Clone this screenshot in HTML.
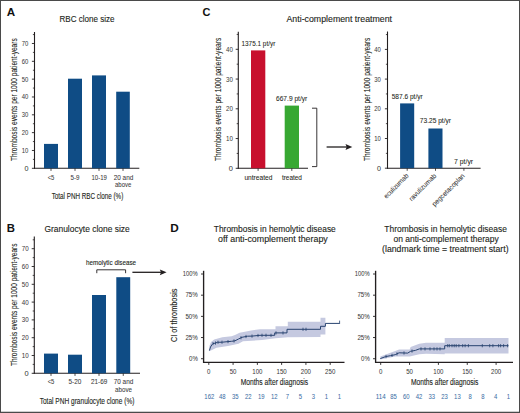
<!DOCTYPE html><html><head><meta charset="utf-8"><style>html,body{margin:0;padding:0;background:#fff;}body{position:relative;width:520px;height:413px;overflow:hidden;}svg{display:block;position:absolute;left:0;top:0;}text{font-family:"Liberation Sans",sans-serif;}.v{position:absolute;transform-origin:0 0;white-space:nowrap;font-family:"Liberation Sans",sans-serif;line-height:1;-webkit-text-stroke:0.1px currentColor;}</style></head><body>
<svg width="520" height="413" viewBox="0 0 520 413">
<rect x="0" y="0" width="520" height="413" fill="#fff"/>
<text x="6.8" y="15.8" font-size="11" text-anchor="start" fill="#111" font-weight="bold" textLength="8.4" lengthAdjust="spacingAndGlyphs">A</text>
<text x="59.5" y="21.6" font-size="8.6" text-anchor="start" fill="#231f20" font-weight="normal" textLength="55" lengthAdjust="spacingAndGlyphs" stroke="#231f20" stroke-width="0.12">RBC clone size</text>
<line x1="34.5" y1="32" x2="34.5" y2="168.8" stroke="#231f20" stroke-width="1.1"/>
<line x1="34.0" y1="168.3" x2="139.3" y2="168.3" stroke="#231f20" stroke-width="1.1"/>
<line x1="31.9" y1="168.3" x2="34.5" y2="168.3" stroke="#231f20" stroke-width="0.9"/>
<text x="28.4" y="170.8" font-size="7.4" text-anchor="end" fill="#3a3a3a" font-weight="normal" textLength="4.0" lengthAdjust="spacingAndGlyphs" stroke="#3a3a3a" stroke-width="0.04">0</text>
<line x1="31.9" y1="150.47000000000003" x2="34.5" y2="150.47000000000003" stroke="#231f20" stroke-width="0.9"/>
<text x="28.4" y="152.97" font-size="7.4" text-anchor="end" fill="#3a3a3a" font-weight="normal" textLength="6.6" lengthAdjust="spacingAndGlyphs" stroke="#3a3a3a" stroke-width="0.04">10</text>
<line x1="31.9" y1="132.64000000000001" x2="34.5" y2="132.64000000000001" stroke="#231f20" stroke-width="0.9"/>
<text x="28.4" y="135.14" font-size="7.4" text-anchor="end" fill="#3a3a3a" font-weight="normal" textLength="6.6" lengthAdjust="spacingAndGlyphs" stroke="#3a3a3a" stroke-width="0.04">20</text>
<line x1="31.9" y1="114.81000000000002" x2="34.5" y2="114.81000000000002" stroke="#231f20" stroke-width="0.9"/>
<text x="28.4" y="117.31" font-size="7.4" text-anchor="end" fill="#3a3a3a" font-weight="normal" textLength="6.6" lengthAdjust="spacingAndGlyphs" stroke="#3a3a3a" stroke-width="0.04">30</text>
<line x1="31.9" y1="96.98000000000002" x2="34.5" y2="96.98000000000002" stroke="#231f20" stroke-width="0.9"/>
<text x="28.4" y="99.48" font-size="7.4" text-anchor="end" fill="#3a3a3a" font-weight="normal" textLength="6.6" lengthAdjust="spacingAndGlyphs" stroke="#3a3a3a" stroke-width="0.04">40</text>
<line x1="31.9" y1="79.15000000000002" x2="34.5" y2="79.15000000000002" stroke="#231f20" stroke-width="0.9"/>
<text x="28.4" y="81.65" font-size="7.4" text-anchor="end" fill="#3a3a3a" font-weight="normal" textLength="6.6" lengthAdjust="spacingAndGlyphs" stroke="#3a3a3a" stroke-width="0.04">50</text>
<line x1="31.9" y1="61.32000000000002" x2="34.5" y2="61.32000000000002" stroke="#231f20" stroke-width="0.9"/>
<text x="28.4" y="63.82" font-size="7.4" text-anchor="end" fill="#3a3a3a" font-weight="normal" textLength="6.6" lengthAdjust="spacingAndGlyphs" stroke="#3a3a3a" stroke-width="0.04">60</text>
<line x1="31.9" y1="43.49000000000002" x2="34.5" y2="43.49000000000002" stroke="#231f20" stroke-width="0.9"/>
<text x="28.4" y="45.99" font-size="7.4" text-anchor="end" fill="#3a3a3a" font-weight="normal" textLength="6.6" lengthAdjust="spacingAndGlyphs" stroke="#3a3a3a" stroke-width="0.04">70</text>
<line x1="32.9" y1="159.38500000000002" x2="34.5" y2="159.38500000000002" stroke="#231f20" stroke-width="0.8"/>
<line x1="32.9" y1="141.555" x2="34.5" y2="141.555" stroke="#231f20" stroke-width="0.8"/>
<line x1="32.9" y1="123.72500000000002" x2="34.5" y2="123.72500000000002" stroke="#231f20" stroke-width="0.8"/>
<line x1="32.9" y1="105.89500000000001" x2="34.5" y2="105.89500000000001" stroke="#231f20" stroke-width="0.8"/>
<line x1="32.9" y1="88.06500000000001" x2="34.5" y2="88.06500000000001" stroke="#231f20" stroke-width="0.8"/>
<line x1="32.9" y1="70.23500000000001" x2="34.5" y2="70.23500000000001" stroke="#231f20" stroke-width="0.8"/>
<line x1="32.9" y1="52.405000000000015" x2="34.5" y2="52.405000000000015" stroke="#231f20" stroke-width="0.8"/>
<line x1="32.9" y1="34.57500000000002" x2="34.5" y2="34.57500000000002" stroke="#231f20" stroke-width="0.8"/>
<rect x="44" y="143.9" width="14" height="24.400000000000006" fill="#0f4c85"/>
<line x1="51.0" y1="168.3" x2="51.0" y2="170.9" stroke="#231f20" stroke-width="0.8"/>
<rect x="68" y="78.7" width="14" height="89.60000000000001" fill="#0f4c85"/>
<line x1="75.0" y1="168.3" x2="75.0" y2="170.9" stroke="#231f20" stroke-width="0.8"/>
<rect x="92" y="75.4" width="14" height="92.9" fill="#0f4c85"/>
<line x1="99.0" y1="168.3" x2="99.0" y2="170.9" stroke="#231f20" stroke-width="0.8"/>
<rect x="116.2" y="91.7" width="13.600000000000009" height="76.60000000000001" fill="#0f4c85"/>
<line x1="123.0" y1="168.3" x2="123.0" y2="170.9" stroke="#231f20" stroke-width="0.8"/>
<text x="51.05" y="179.6" font-size="7.2" text-anchor="middle" fill="#3a3a3a" font-weight="normal" textLength="6.7" lengthAdjust="spacingAndGlyphs" stroke="#3a3a3a" stroke-width="0.06">&lt;5</text>
<text x="75.0" y="179.6" font-size="7.2" text-anchor="middle" fill="#3a3a3a" font-weight="normal" textLength="9" lengthAdjust="spacingAndGlyphs" stroke="#3a3a3a" stroke-width="0.06">5-9</text>
<text x="99.2" y="179.6" font-size="7.2" text-anchor="middle" fill="#3a3a3a" font-weight="normal" textLength="15.4" lengthAdjust="spacingAndGlyphs" stroke="#3a3a3a" stroke-width="0.06">10-19</text>
<text x="123.5" y="179.6" font-size="7.2" text-anchor="middle" fill="#3a3a3a" font-weight="normal" textLength="19.6" lengthAdjust="spacingAndGlyphs" stroke="#3a3a3a" stroke-width="0.06">20 and</text>
<text x="123.2" y="187.3" font-size="7.2" text-anchor="middle" fill="#3a3a3a" font-weight="normal" textLength="16.3" lengthAdjust="spacingAndGlyphs" stroke="#3a3a3a" stroke-width="0.06">above</text>
<text x="51.7" y="199.1" font-size="8.6" text-anchor="start" fill="#231f20" font-weight="normal" textLength="71.6" lengthAdjust="spacingAndGlyphs" stroke="#231f20" stroke-width="0.12">Total PNH RBC clone (%)</text>
<text x="6.8" y="231.8" font-size="11" text-anchor="start" fill="#111" font-weight="bold" textLength="8.2" lengthAdjust="spacingAndGlyphs">B</text>
<text x="44.4" y="231.7" font-size="8.6" text-anchor="start" fill="#231f20" font-weight="normal" textLength="85.4" lengthAdjust="spacingAndGlyphs" stroke="#231f20" stroke-width="0.12">Granulocyte clone size</text>
<line x1="34.3" y1="236.5" x2="34.3" y2="373.8" stroke="#231f20" stroke-width="1.1"/>
<line x1="33.8" y1="373.3" x2="140" y2="373.3" stroke="#231f20" stroke-width="1.1"/>
<line x1="31.699999999999996" y1="373.3" x2="34.3" y2="373.3" stroke="#231f20" stroke-width="0.9"/>
<text x="28.6" y="375.8" font-size="7.4" text-anchor="end" fill="#3a3a3a" font-weight="normal" textLength="4.15" lengthAdjust="spacingAndGlyphs" stroke="#3a3a3a" stroke-width="0.04">0</text>
<line x1="31.699999999999996" y1="355.5" x2="34.3" y2="355.5" stroke="#231f20" stroke-width="0.9"/>
<text x="28.6" y="358.0" font-size="7.4" text-anchor="end" fill="#3a3a3a" font-weight="normal" textLength="6.9" lengthAdjust="spacingAndGlyphs" stroke="#3a3a3a" stroke-width="0.04">10</text>
<line x1="31.699999999999996" y1="337.7" x2="34.3" y2="337.7" stroke="#231f20" stroke-width="0.9"/>
<text x="28.6" y="340.2" font-size="7.4" text-anchor="end" fill="#3a3a3a" font-weight="normal" textLength="6.9" lengthAdjust="spacingAndGlyphs" stroke="#3a3a3a" stroke-width="0.04">20</text>
<line x1="31.699999999999996" y1="319.90000000000003" x2="34.3" y2="319.90000000000003" stroke="#231f20" stroke-width="0.9"/>
<text x="28.6" y="322.4" font-size="7.4" text-anchor="end" fill="#3a3a3a" font-weight="normal" textLength="6.9" lengthAdjust="spacingAndGlyphs" stroke="#3a3a3a" stroke-width="0.04">30</text>
<line x1="31.699999999999996" y1="302.1" x2="34.3" y2="302.1" stroke="#231f20" stroke-width="0.9"/>
<text x="28.6" y="304.6" font-size="7.4" text-anchor="end" fill="#3a3a3a" font-weight="normal" textLength="6.9" lengthAdjust="spacingAndGlyphs" stroke="#3a3a3a" stroke-width="0.04">40</text>
<line x1="31.699999999999996" y1="284.3" x2="34.3" y2="284.3" stroke="#231f20" stroke-width="0.9"/>
<text x="28.6" y="286.8" font-size="7.4" text-anchor="end" fill="#3a3a3a" font-weight="normal" textLength="6.9" lengthAdjust="spacingAndGlyphs" stroke="#3a3a3a" stroke-width="0.04">50</text>
<line x1="31.699999999999996" y1="266.5" x2="34.3" y2="266.5" stroke="#231f20" stroke-width="0.9"/>
<text x="28.6" y="269.0" font-size="7.4" text-anchor="end" fill="#3a3a3a" font-weight="normal" textLength="6.9" lengthAdjust="spacingAndGlyphs" stroke="#3a3a3a" stroke-width="0.04">60</text>
<line x1="31.699999999999996" y1="248.7" x2="34.3" y2="248.7" stroke="#231f20" stroke-width="0.9"/>
<text x="28.6" y="251.2" font-size="7.4" text-anchor="end" fill="#3a3a3a" font-weight="normal" textLength="6.9" lengthAdjust="spacingAndGlyphs" stroke="#3a3a3a" stroke-width="0.04">70</text>
<line x1="32.699999999999996" y1="364.40000000000003" x2="34.3" y2="364.40000000000003" stroke="#231f20" stroke-width="0.8"/>
<line x1="32.699999999999996" y1="346.6" x2="34.3" y2="346.6" stroke="#231f20" stroke-width="0.8"/>
<line x1="32.699999999999996" y1="328.8" x2="34.3" y2="328.8" stroke="#231f20" stroke-width="0.8"/>
<line x1="32.699999999999996" y1="311.0" x2="34.3" y2="311.0" stroke="#231f20" stroke-width="0.8"/>
<line x1="32.699999999999996" y1="293.20000000000005" x2="34.3" y2="293.20000000000005" stroke="#231f20" stroke-width="0.8"/>
<line x1="32.699999999999996" y1="275.4" x2="34.3" y2="275.4" stroke="#231f20" stroke-width="0.8"/>
<line x1="32.699999999999996" y1="257.6" x2="34.3" y2="257.6" stroke="#231f20" stroke-width="0.8"/>
<line x1="32.699999999999996" y1="239.8" x2="34.3" y2="239.8" stroke="#231f20" stroke-width="0.8"/>
<rect x="44" y="353.6" width="14" height="19.69999999999999" fill="#0f4c85"/>
<line x1="51.0" y1="373.3" x2="51.0" y2="375.90000000000003" stroke="#231f20" stroke-width="0.8"/>
<rect x="68" y="354.7" width="14" height="18.600000000000023" fill="#0f4c85"/>
<line x1="75.0" y1="373.3" x2="75.0" y2="375.90000000000003" stroke="#231f20" stroke-width="0.8"/>
<rect x="92" y="295" width="14" height="78.30000000000001" fill="#0f4c85"/>
<line x1="99.0" y1="373.3" x2="99.0" y2="375.90000000000003" stroke="#231f20" stroke-width="0.8"/>
<rect x="116.3" y="277.2" width="13.899999999999991" height="96.10000000000002" fill="#0f4c85"/>
<line x1="123.25" y1="373.3" x2="123.25" y2="375.90000000000003" stroke="#231f20" stroke-width="0.8"/>
<text x="51.05" y="384.3" font-size="7.2" text-anchor="middle" fill="#3a3a3a" font-weight="normal" textLength="6.7" lengthAdjust="spacingAndGlyphs" stroke="#3a3a3a" stroke-width="0.06">&lt;5</text>
<text x="74.9" y="384.3" font-size="7.2" text-anchor="middle" fill="#3a3a3a" font-weight="normal" textLength="12.8" lengthAdjust="spacingAndGlyphs" stroke="#3a3a3a" stroke-width="0.06">5-20</text>
<text x="99.15" y="384.3" font-size="7.2" text-anchor="middle" fill="#3a3a3a" font-weight="normal" textLength="16.3" lengthAdjust="spacingAndGlyphs" stroke="#3a3a3a" stroke-width="0.06">21-69</text>
<text x="123.5" y="384.3" font-size="7.2" text-anchor="middle" fill="#3a3a3a" font-weight="normal" textLength="19.6" lengthAdjust="spacingAndGlyphs" stroke="#3a3a3a" stroke-width="0.06">70 and</text>
<text x="123.5" y="392" font-size="7.2" text-anchor="middle" fill="#3a3a3a" font-weight="normal" textLength="17" lengthAdjust="spacingAndGlyphs" stroke="#3a3a3a" stroke-width="0.06">above</text>
<text x="39.7" y="404.2" font-size="8.6" text-anchor="start" fill="#231f20" font-weight="normal" textLength="94.7" lengthAdjust="spacingAndGlyphs" stroke="#231f20" stroke-width="0.12">Total PNH granulocyte clone (%)</text>
<text x="86.1" y="265.4" font-size="7.4" text-anchor="start" fill="#231f20" font-weight="normal" textLength="50" lengthAdjust="spacingAndGlyphs" stroke="#231f20" stroke-width="0.12">hemolytic disease</text>
<path d="M96.8,273.2 V269.8 H125.6 V273.2" fill="none" stroke="#231f20" stroke-width="0.9"/>
<line x1="132.4" y1="272.3" x2="162.6" y2="272.3" stroke="#231f20" stroke-width="1.3"/>
<path d="M166.6,272.3 L159.79999999999998,269.4 L161.0,272.3 L159.79999999999998,275.2 Z" fill="#231f20"/>
<text x="202.6" y="16.3" font-size="11" text-anchor="start" fill="#111" font-weight="bold" textLength="7.9" lengthAdjust="spacingAndGlyphs">C</text>
<text x="286.5" y="21.6" font-size="8.6" text-anchor="start" fill="#231f20" font-weight="normal" textLength="105.5" lengthAdjust="spacingAndGlyphs" stroke="#231f20" stroke-width="0.12">Anti-complement treatment</text>
<line x1="238.3" y1="31.7" x2="238.3" y2="168.8" stroke="#231f20" stroke-width="1.1"/>
<line x1="237.8" y1="168.3" x2="308" y2="168.3" stroke="#231f20" stroke-width="1.1"/>
<line x1="235.70000000000002" y1="168.3" x2="238.3" y2="168.3" stroke="#231f20" stroke-width="0.9"/>
<text x="232.9" y="170.8" font-size="7.4" text-anchor="end" fill="#3a3a3a" font-weight="normal" textLength="4.15" lengthAdjust="spacingAndGlyphs" stroke="#3a3a3a" stroke-width="0.04">0</text>
<line x1="235.70000000000002" y1="138.55" x2="238.3" y2="138.55" stroke="#231f20" stroke-width="0.9"/>
<text x="232.9" y="141.05" font-size="7.4" text-anchor="end" fill="#3a3a3a" font-weight="normal" textLength="6.9" lengthAdjust="spacingAndGlyphs" stroke="#3a3a3a" stroke-width="0.04">10</text>
<line x1="235.70000000000002" y1="108.80000000000001" x2="238.3" y2="108.80000000000001" stroke="#231f20" stroke-width="0.9"/>
<text x="232.9" y="111.3" font-size="7.4" text-anchor="end" fill="#3a3a3a" font-weight="normal" textLength="6.9" lengthAdjust="spacingAndGlyphs" stroke="#3a3a3a" stroke-width="0.04">20</text>
<line x1="235.70000000000002" y1="79.05000000000001" x2="238.3" y2="79.05000000000001" stroke="#231f20" stroke-width="0.9"/>
<text x="232.9" y="81.55" font-size="7.4" text-anchor="end" fill="#3a3a3a" font-weight="normal" textLength="6.9" lengthAdjust="spacingAndGlyphs" stroke="#3a3a3a" stroke-width="0.04">30</text>
<line x1="235.70000000000002" y1="49.30000000000001" x2="238.3" y2="49.30000000000001" stroke="#231f20" stroke-width="0.9"/>
<text x="232.9" y="51.8" font-size="7.4" text-anchor="end" fill="#3a3a3a" font-weight="normal" textLength="6.9" lengthAdjust="spacingAndGlyphs" stroke="#3a3a3a" stroke-width="0.04">40</text>
<line x1="236.70000000000002" y1="153.425" x2="238.3" y2="153.425" stroke="#231f20" stroke-width="0.8"/>
<line x1="236.70000000000002" y1="123.67500000000001" x2="238.3" y2="123.67500000000001" stroke="#231f20" stroke-width="0.8"/>
<line x1="236.70000000000002" y1="93.92500000000001" x2="238.3" y2="93.92500000000001" stroke="#231f20" stroke-width="0.8"/>
<line x1="236.70000000000002" y1="64.17500000000001" x2="238.3" y2="64.17500000000001" stroke="#231f20" stroke-width="0.8"/>
<line x1="236.70000000000002" y1="34.42500000000001" x2="238.3" y2="34.42500000000001" stroke="#231f20" stroke-width="0.8"/>
<rect x="251" y="50.4" width="14.3" height="117.9" fill="#c8102e"/>
<rect x="284.7" y="105.6" width="14.3" height="62.70000000000002" fill="#37a832"/>
<line x1="258.1" y1="168.3" x2="258.1" y2="170.9" stroke="#231f20" stroke-width="0.8"/>
<line x1="291.8" y1="168.3" x2="291.8" y2="170.9" stroke="#231f20" stroke-width="0.8"/>
<text x="244.4" y="179.9" font-size="7" text-anchor="start" fill="#231f20" font-weight="normal" textLength="28" lengthAdjust="spacingAndGlyphs" stroke="#231f20" stroke-width="0.06">untreated</text>
<text x="281.9" y="179.9" font-size="7" text-anchor="start" fill="#231f20" font-weight="normal" textLength="20" lengthAdjust="spacingAndGlyphs" stroke="#231f20" stroke-width="0.06">treated</text>
<text x="241.5" y="46.4" font-size="6.6" text-anchor="start" fill="#231f20" font-weight="normal" textLength="33.8" lengthAdjust="spacingAndGlyphs" stroke="#231f20" stroke-width="0.06">1375.1 pt/yr</text>
<text x="276" y="100.8" font-size="6.6" text-anchor="start" fill="#231f20" font-weight="normal" textLength="31.3" lengthAdjust="spacingAndGlyphs" stroke="#231f20" stroke-width="0.06">667.9 pt/yr</text>
<path d="M312,108.2 H316.8 V166.6 H312" fill="none" stroke="#231f20" stroke-width="0.9"/>
<line x1="326.6" y1="147" x2="348.3" y2="147" stroke="#231f20" stroke-width="1.3"/>
<path d="M352.3,147 L345.5,144.1 L346.7,147 L345.5,149.9 Z" fill="#231f20"/>
<line x1="387.5" y1="31.5" x2="387.5" y2="168.7" stroke="#231f20" stroke-width="1.1"/>
<line x1="387.0" y1="168.2" x2="480.6" y2="168.2" stroke="#231f20" stroke-width="1.1"/>
<line x1="384.9" y1="168.2" x2="387.5" y2="168.2" stroke="#231f20" stroke-width="0.9"/>
<text x="380.9" y="170.7" font-size="7.4" text-anchor="end" fill="#3a3a3a" font-weight="normal" textLength="4.0" lengthAdjust="spacingAndGlyphs" stroke="#3a3a3a" stroke-width="0.04">0</text>
<line x1="384.9" y1="138.5" x2="387.5" y2="138.5" stroke="#231f20" stroke-width="0.9"/>
<text x="380.9" y="141.0" font-size="7.4" text-anchor="end" fill="#3a3a3a" font-weight="normal" textLength="6.6" lengthAdjust="spacingAndGlyphs" stroke="#3a3a3a" stroke-width="0.04">10</text>
<line x1="384.9" y1="108.79999999999998" x2="387.5" y2="108.79999999999998" stroke="#231f20" stroke-width="0.9"/>
<text x="380.9" y="111.3" font-size="7.4" text-anchor="end" fill="#3a3a3a" font-weight="normal" textLength="6.6" lengthAdjust="spacingAndGlyphs" stroke="#3a3a3a" stroke-width="0.04">20</text>
<line x1="384.9" y1="79.09999999999998" x2="387.5" y2="79.09999999999998" stroke="#231f20" stroke-width="0.9"/>
<text x="380.9" y="81.6" font-size="7.4" text-anchor="end" fill="#3a3a3a" font-weight="normal" textLength="6.6" lengthAdjust="spacingAndGlyphs" stroke="#3a3a3a" stroke-width="0.04">30</text>
<line x1="384.9" y1="49.39999999999998" x2="387.5" y2="49.39999999999998" stroke="#231f20" stroke-width="0.9"/>
<text x="380.9" y="51.9" font-size="7.4" text-anchor="end" fill="#3a3a3a" font-weight="normal" textLength="6.6" lengthAdjust="spacingAndGlyphs" stroke="#3a3a3a" stroke-width="0.04">40</text>
<line x1="385.9" y1="153.35" x2="387.5" y2="153.35" stroke="#231f20" stroke-width="0.8"/>
<line x1="385.9" y1="123.64999999999998" x2="387.5" y2="123.64999999999998" stroke="#231f20" stroke-width="0.8"/>
<line x1="385.9" y1="93.94999999999999" x2="387.5" y2="93.94999999999999" stroke="#231f20" stroke-width="0.8"/>
<line x1="385.9" y1="64.24999999999999" x2="387.5" y2="64.24999999999999" stroke="#231f20" stroke-width="0.8"/>
<line x1="385.9" y1="34.54999999999998" x2="387.5" y2="34.54999999999998" stroke="#231f20" stroke-width="0.8"/>
<rect x="400.1" y="103.4" width="14.1" height="64.79999999999998" fill="#0f4c85"/>
<rect x="428.4" y="128.5" width="14.1" height="39.69999999999999" fill="#0f4c85"/>
<line x1="407.2" y1="168.2" x2="407.2" y2="170.8" stroke="#231f20" stroke-width="0.8"/>
<line x1="435.5" y1="168.2" x2="435.5" y2="170.8" stroke="#231f20" stroke-width="0.8"/>
<line x1="463.9" y1="168.2" x2="463.9" y2="170.8" stroke="#231f20" stroke-width="0.8"/>
<text x="391.7" y="98.8" font-size="6.6" text-anchor="start" fill="#231f20" font-weight="normal" textLength="31" lengthAdjust="spacingAndGlyphs" stroke="#231f20" stroke-width="0.06">587.6 pt/yr</text>
<text x="419.8" y="123" font-size="6.6" text-anchor="start" fill="#231f20" font-weight="normal" textLength="31.2" lengthAdjust="spacingAndGlyphs" stroke="#231f20" stroke-width="0.06">73.25 pt/yr</text>
<text x="454.1" y="163.7" font-size="6.6" text-anchor="start" fill="#231f20" font-weight="normal" textLength="19" lengthAdjust="spacingAndGlyphs" stroke="#231f20" stroke-width="0.06">7 pt/yr</text>
<g transform="translate(407.5,174.8) rotate(-45)">
<text x="0" y="2.2" font-size="6.9" text-anchor="end" fill="#3a3a3a" font-weight="normal" textLength="32" lengthAdjust="spacingAndGlyphs" stroke="#3a3a3a" stroke-width="0.06">eculizumab</text>
</g>
<g transform="translate(435.2,174.8) rotate(-45)">
<text x="0" y="2.2" font-size="6.9" text-anchor="end" fill="#3a3a3a" font-weight="normal" textLength="35.5" lengthAdjust="spacingAndGlyphs" stroke="#3a3a3a" stroke-width="0.06">ravulizumab</text>
</g>
<g transform="translate(463.6,174.8) rotate(-45)">
<text x="0" y="2.2" font-size="6.9" text-anchor="end" fill="#3a3a3a" font-weight="normal" textLength="43" lengthAdjust="spacingAndGlyphs" stroke="#3a3a3a" stroke-width="0.06">pegcetacoplan</text>
</g>
<text x="170.2" y="231.7" font-size="11" text-anchor="start" fill="#111" font-weight="bold" textLength="8.5" lengthAdjust="spacingAndGlyphs">D</text>
<text x="274.8" y="231.9" font-size="8.6" text-anchor="middle" fill="#231f20" font-weight="normal" textLength="122" lengthAdjust="spacingAndGlyphs" stroke="#231f20" stroke-width="0.12">Thrombosis in hemolytic disease</text>
<text x="272.9" y="241.5" font-size="8.6" text-anchor="middle" fill="#231f20" font-weight="normal" textLength="109.7" lengthAdjust="spacingAndGlyphs" stroke="#231f20" stroke-width="0.12">off anti-complement therapy</text>
<text x="445.6" y="232" font-size="8.6" text-anchor="middle" fill="#231f20" font-weight="normal" textLength="122.6" lengthAdjust="spacingAndGlyphs" stroke="#231f20" stroke-width="0.12">Thrombosis in hemolytic disease</text>
<text x="446.1" y="241.9" font-size="8.6" text-anchor="middle" fill="#231f20" font-weight="normal" textLength="105.2" lengthAdjust="spacingAndGlyphs" stroke="#231f20" stroke-width="0.12">on anti-complement therapy</text>
<text x="445.3" y="252.4" font-size="8.6" text-anchor="middle" fill="#231f20" font-weight="normal" textLength="126.5" lengthAdjust="spacingAndGlyphs" stroke="#231f20" stroke-width="0.12">(landmark time = treatment start)</text>
<line x1="203.6" y1="270.8" x2="203.6" y2="362.9" stroke="#231f20" stroke-width="1.35"/>
<line x1="203.0" y1="362.3" x2="344.5" y2="362.3" stroke="#231f20" stroke-width="1.3"/>
<line x1="201.0" y1="274.0" x2="203.6" y2="274.0" stroke="#231f20" stroke-width="0.9"/>
<text x="197.79999999999998" y="276.3" font-size="6.6" text-anchor="end" fill="#3a3a3a" font-weight="normal" textLength="15" lengthAdjust="spacingAndGlyphs" stroke="#3a3a3a" stroke-width="0.04">100%</text>
<line x1="201.0" y1="295.18" x2="203.6" y2="295.18" stroke="#231f20" stroke-width="0.9"/>
<text x="197.79999999999998" y="297.48" font-size="6.6" text-anchor="end" fill="#3a3a3a" font-weight="normal" textLength="12.4" lengthAdjust="spacingAndGlyphs" stroke="#3a3a3a" stroke-width="0.04">75%</text>
<line x1="201.0" y1="316.36" x2="203.6" y2="316.36" stroke="#231f20" stroke-width="0.9"/>
<text x="197.79999999999998" y="318.66" font-size="6.6" text-anchor="end" fill="#3a3a3a" font-weight="normal" textLength="12.4" lengthAdjust="spacingAndGlyphs" stroke="#3a3a3a" stroke-width="0.04">50%</text>
<line x1="201.0" y1="337.54" x2="203.6" y2="337.54" stroke="#231f20" stroke-width="0.9"/>
<text x="197.79999999999998" y="339.84000000000003" font-size="6.6" text-anchor="end" fill="#3a3a3a" font-weight="normal" textLength="12.4" lengthAdjust="spacingAndGlyphs" stroke="#3a3a3a" stroke-width="0.04">25%</text>
<line x1="201.0" y1="358.72" x2="203.6" y2="358.72" stroke="#231f20" stroke-width="0.9"/>
<text x="197.79999999999998" y="361.02000000000004" font-size="6.6" text-anchor="end" fill="#3a3a3a" font-weight="normal" textLength="8.8" lengthAdjust="spacingAndGlyphs" stroke="#3a3a3a" stroke-width="0.04">0%</text>
<line x1="208.8" y1="362.3" x2="208.8" y2="364.9" stroke="#231f20" stroke-width="0.9"/>
<text x="208.8" y="373.9" font-size="7.2" text-anchor="middle" fill="#3a3a3a" font-weight="normal" textLength="3.4" lengthAdjust="spacingAndGlyphs" stroke="#3a3a3a" stroke-width="0.04">0</text>
<line x1="233.08" y1="362.3" x2="233.08" y2="364.9" stroke="#231f20" stroke-width="0.9"/>
<text x="233.08" y="373.9" font-size="7.2" text-anchor="middle" fill="#3a3a3a" font-weight="normal" textLength="6.8" lengthAdjust="spacingAndGlyphs" stroke="#3a3a3a" stroke-width="0.04">50</text>
<line x1="257.36" y1="362.3" x2="257.36" y2="364.9" stroke="#231f20" stroke-width="0.9"/>
<text x="257.36" y="373.9" font-size="7.2" text-anchor="middle" fill="#3a3a3a" font-weight="normal" textLength="10.2" lengthAdjust="spacingAndGlyphs" stroke="#3a3a3a" stroke-width="0.04">100</text>
<line x1="281.64" y1="362.3" x2="281.64" y2="364.9" stroke="#231f20" stroke-width="0.9"/>
<text x="281.64" y="373.9" font-size="7.2" text-anchor="middle" fill="#3a3a3a" font-weight="normal" textLength="10.2" lengthAdjust="spacingAndGlyphs" stroke="#3a3a3a" stroke-width="0.04">150</text>
<line x1="305.92" y1="362.3" x2="305.92" y2="364.9" stroke="#231f20" stroke-width="0.9"/>
<text x="305.92" y="373.9" font-size="7.2" text-anchor="middle" fill="#3a3a3a" font-weight="normal" textLength="10.2" lengthAdjust="spacingAndGlyphs" stroke="#3a3a3a" stroke-width="0.04">200</text>
<line x1="330.2" y1="362.3" x2="330.2" y2="364.9" stroke="#231f20" stroke-width="0.9"/>
<text x="330.2" y="373.9" font-size="7.2" text-anchor="middle" fill="#3a3a3a" font-weight="normal" textLength="10.2" lengthAdjust="spacingAndGlyphs" stroke="#3a3a3a" stroke-width="0.04">250</text>
<text x="274.4" y="385.2" font-size="8.4" text-anchor="middle" fill="#231f20" font-weight="normal" textLength="67.5" lengthAdjust="spacingAndGlyphs" stroke="#231f20" stroke-width="0.12">Months after diagnosis</text>
<text x="209.3" y="398.9" font-size="7.2" text-anchor="middle" fill="#3a6ea5" font-weight="normal" textLength="9.899999999999999" lengthAdjust="spacingAndGlyphs" stroke="#3a6ea5" stroke-width="0.04">162</text>
<text x="222.3" y="398.9" font-size="7.2" text-anchor="middle" fill="#3a6ea5" font-weight="normal" textLength="6.6" lengthAdjust="spacingAndGlyphs" stroke="#3a6ea5" stroke-width="0.04">48</text>
<text x="235.3" y="398.9" font-size="7.2" text-anchor="middle" fill="#3a6ea5" font-weight="normal" textLength="6.6" lengthAdjust="spacingAndGlyphs" stroke="#3a6ea5" stroke-width="0.04">35</text>
<text x="248.3" y="398.9" font-size="7.2" text-anchor="middle" fill="#3a6ea5" font-weight="normal" textLength="6.6" lengthAdjust="spacingAndGlyphs" stroke="#3a6ea5" stroke-width="0.04">22</text>
<text x="261.3" y="398.9" font-size="7.2" text-anchor="middle" fill="#3a6ea5" font-weight="normal" textLength="6.6" lengthAdjust="spacingAndGlyphs" stroke="#3a6ea5" stroke-width="0.04">19</text>
<text x="274.3" y="398.9" font-size="7.2" text-anchor="middle" fill="#3a6ea5" font-weight="normal" textLength="6.6" lengthAdjust="spacingAndGlyphs" stroke="#3a6ea5" stroke-width="0.04">12</text>
<text x="287.3" y="398.9" font-size="7.2" text-anchor="middle" fill="#3a6ea5" font-weight="normal" textLength="3.3" lengthAdjust="spacingAndGlyphs" stroke="#3a6ea5" stroke-width="0.04">7</text>
<text x="300.3" y="398.9" font-size="7.2" text-anchor="middle" fill="#3a6ea5" font-weight="normal" textLength="3.3" lengthAdjust="spacingAndGlyphs" stroke="#3a6ea5" stroke-width="0.04">5</text>
<text x="313.3" y="398.9" font-size="7.2" text-anchor="middle" fill="#3a6ea5" font-weight="normal" textLength="3.3" lengthAdjust="spacingAndGlyphs" stroke="#3a6ea5" stroke-width="0.04">3</text>
<text x="326.3" y="398.9" font-size="7.2" text-anchor="middle" fill="#3a6ea5" font-weight="normal" textLength="3.3" lengthAdjust="spacingAndGlyphs" stroke="#3a6ea5" stroke-width="0.04">1</text>
<text x="339.3" y="398.9" font-size="7.2" text-anchor="middle" fill="#3a6ea5" font-weight="normal" textLength="3.3" lengthAdjust="spacingAndGlyphs" stroke="#3a6ea5" stroke-width="0.04">1</text>
<line x1="375.6" y1="270.8" x2="375.6" y2="362.9" stroke="#231f20" stroke-width="1.35"/>
<line x1="375.0" y1="362.3" x2="513" y2="362.3" stroke="#231f20" stroke-width="1.3"/>
<line x1="373.0" y1="274.0" x2="375.6" y2="274.0" stroke="#231f20" stroke-width="0.9"/>
<text x="369.8" y="276.3" font-size="6.6" text-anchor="end" fill="#3a3a3a" font-weight="normal" textLength="15" lengthAdjust="spacingAndGlyphs" stroke="#3a3a3a" stroke-width="0.04">100%</text>
<line x1="373.0" y1="295.18" x2="375.6" y2="295.18" stroke="#231f20" stroke-width="0.9"/>
<text x="369.8" y="297.48" font-size="6.6" text-anchor="end" fill="#3a3a3a" font-weight="normal" textLength="12.4" lengthAdjust="spacingAndGlyphs" stroke="#3a3a3a" stroke-width="0.04">75%</text>
<line x1="373.0" y1="316.36" x2="375.6" y2="316.36" stroke="#231f20" stroke-width="0.9"/>
<text x="369.8" y="318.66" font-size="6.6" text-anchor="end" fill="#3a3a3a" font-weight="normal" textLength="12.4" lengthAdjust="spacingAndGlyphs" stroke="#3a3a3a" stroke-width="0.04">50%</text>
<line x1="373.0" y1="337.54" x2="375.6" y2="337.54" stroke="#231f20" stroke-width="0.9"/>
<text x="369.8" y="339.84000000000003" font-size="6.6" text-anchor="end" fill="#3a3a3a" font-weight="normal" textLength="12.4" lengthAdjust="spacingAndGlyphs" stroke="#3a3a3a" stroke-width="0.04">25%</text>
<line x1="373.0" y1="358.72" x2="375.6" y2="358.72" stroke="#231f20" stroke-width="0.9"/>
<text x="369.8" y="361.02000000000004" font-size="6.6" text-anchor="end" fill="#3a3a3a" font-weight="normal" textLength="8.8" lengthAdjust="spacingAndGlyphs" stroke="#3a3a3a" stroke-width="0.04">0%</text>
<line x1="380.7" y1="362.3" x2="380.7" y2="364.9" stroke="#231f20" stroke-width="0.9"/>
<text x="380.7" y="373.9" font-size="7.2" text-anchor="middle" fill="#3a3a3a" font-weight="normal" textLength="3.4" lengthAdjust="spacingAndGlyphs" stroke="#3a3a3a" stroke-width="0.04">0</text>
<line x1="409.55" y1="362.3" x2="409.55" y2="364.9" stroke="#231f20" stroke-width="0.9"/>
<text x="409.55" y="373.9" font-size="7.2" text-anchor="middle" fill="#3a3a3a" font-weight="normal" textLength="6.8" lengthAdjust="spacingAndGlyphs" stroke="#3a3a3a" stroke-width="0.04">50</text>
<line x1="438.4" y1="362.3" x2="438.4" y2="364.9" stroke="#231f20" stroke-width="0.9"/>
<text x="438.4" y="373.9" font-size="7.2" text-anchor="middle" fill="#3a3a3a" font-weight="normal" textLength="10.2" lengthAdjust="spacingAndGlyphs" stroke="#3a3a3a" stroke-width="0.04">100</text>
<line x1="467.25" y1="362.3" x2="467.25" y2="364.9" stroke="#231f20" stroke-width="0.9"/>
<text x="467.25" y="373.9" font-size="7.2" text-anchor="middle" fill="#3a3a3a" font-weight="normal" textLength="10.2" lengthAdjust="spacingAndGlyphs" stroke="#3a3a3a" stroke-width="0.04">150</text>
<line x1="496.09999999999997" y1="362.3" x2="496.09999999999997" y2="364.9" stroke="#231f20" stroke-width="0.9"/>
<text x="496.09999999999997" y="373.9" font-size="7.2" text-anchor="middle" fill="#3a3a3a" font-weight="normal" textLength="10.2" lengthAdjust="spacingAndGlyphs" stroke="#3a3a3a" stroke-width="0.04">200</text>
<text x="444.7" y="385.2" font-size="8.4" text-anchor="middle" fill="#231f20" font-weight="normal" textLength="67.5" lengthAdjust="spacingAndGlyphs" stroke="#231f20" stroke-width="0.12">Months after diagnosis</text>
<text x="380.7" y="398.9" font-size="7.2" text-anchor="middle" fill="#3a6ea5" font-weight="normal" textLength="9.899999999999999" lengthAdjust="spacingAndGlyphs" stroke="#3a6ea5" stroke-width="0.04">114</text>
<text x="393.47999999999996" y="398.9" font-size="7.2" text-anchor="middle" fill="#3a6ea5" font-weight="normal" textLength="6.6" lengthAdjust="spacingAndGlyphs" stroke="#3a6ea5" stroke-width="0.04">85</text>
<text x="406.26" y="398.9" font-size="7.2" text-anchor="middle" fill="#3a6ea5" font-weight="normal" textLength="6.6" lengthAdjust="spacingAndGlyphs" stroke="#3a6ea5" stroke-width="0.04">60</text>
<text x="419.03999999999996" y="398.9" font-size="7.2" text-anchor="middle" fill="#3a6ea5" font-weight="normal" textLength="6.6" lengthAdjust="spacingAndGlyphs" stroke="#3a6ea5" stroke-width="0.04">42</text>
<text x="431.82" y="398.9" font-size="7.2" text-anchor="middle" fill="#3a6ea5" font-weight="normal" textLength="6.6" lengthAdjust="spacingAndGlyphs" stroke="#3a6ea5" stroke-width="0.04">33</text>
<text x="444.59999999999997" y="398.9" font-size="7.2" text-anchor="middle" fill="#3a6ea5" font-weight="normal" textLength="6.6" lengthAdjust="spacingAndGlyphs" stroke="#3a6ea5" stroke-width="0.04">23</text>
<text x="457.38" y="398.9" font-size="7.2" text-anchor="middle" fill="#3a6ea5" font-weight="normal" textLength="6.6" lengthAdjust="spacingAndGlyphs" stroke="#3a6ea5" stroke-width="0.04">13</text>
<text x="470.15999999999997" y="398.9" font-size="7.2" text-anchor="middle" fill="#3a6ea5" font-weight="normal" textLength="3.3" lengthAdjust="spacingAndGlyphs" stroke="#3a6ea5" stroke-width="0.04">8</text>
<text x="482.94" y="398.9" font-size="7.2" text-anchor="middle" fill="#3a6ea5" font-weight="normal" textLength="3.3" lengthAdjust="spacingAndGlyphs" stroke="#3a6ea5" stroke-width="0.04">8</text>
<text x="495.71999999999997" y="398.9" font-size="7.2" text-anchor="middle" fill="#3a6ea5" font-weight="normal" textLength="3.3" lengthAdjust="spacingAndGlyphs" stroke="#3a6ea5" stroke-width="0.04">4</text>
<text x="508.5" y="398.9" font-size="7.2" text-anchor="middle" fill="#3a6ea5" font-weight="normal" textLength="3.3" lengthAdjust="spacingAndGlyphs" stroke="#3a6ea5" stroke-width="0.04">1</text>
<polygon points="209.4,346 211,342 214.2,339.6 222.3,337.3 231.5,336.2 235,335 239.6,332.7 251.2,330.4 260,329.3 275.5,329.3 275.5,326.3 287.8,326.3 287.8,321.8 320.5,321.8 320.5,317.8 325.4,317.8 325.4,334.5 320.5,334.5 320.5,337 287.8,337.2 275.5,338.3 262,340 243,341.3 238.5,343.7 228,346 216.5,347.7 209.4,351.2" fill="#c5c9e0"/>
<polyline points="209.4,350.6 210.5,347 211.9,344.8 213,343.6 215.4,343.1 217.3,342.3 222.3,342.2 226,341.8 231.5,341.3 235,340.8 238.5,339 241.9,337.3 247.7,336.2 252,336.1 260,335.3 274.7,335.3 274.7,332.9 287,332.9 287,329.3 320.5,329.3 320.5,326.3 325.4,326.3 325.4,323.4 339.6,323.4" fill="none" stroke="#27426f" stroke-width="1.0" stroke-linejoin="miter"/>
<line x1="213" y1="342.0" x2="213" y2="345.2" stroke="#27426f" stroke-width="0.8"/>
<line x1="215.5" y1="341.46" x2="215.5" y2="344.66" stroke="#27426f" stroke-width="0.8"/>
<line x1="218" y1="340.69" x2="218" y2="343.89" stroke="#27426f" stroke-width="0.8"/>
<line x1="222" y1="340.61" x2="222" y2="343.81" stroke="#27426f" stroke-width="0.8"/>
<line x1="228" y1="340.02" x2="228" y2="343.22" stroke="#27426f" stroke-width="0.8"/>
<line x1="234" y1="339.34" x2="234" y2="342.54" stroke="#27426f" stroke-width="0.8"/>
<line x1="241" y1="336.15" x2="241" y2="339.35" stroke="#27426f" stroke-width="0.8"/>
<line x1="246" y1="334.92" x2="246" y2="338.12" stroke="#27426f" stroke-width="0.8"/>
<line x1="252" y1="334.5" x2="252" y2="337.7" stroke="#27426f" stroke-width="0.8"/>
<line x1="258" y1="333.9" x2="258" y2="337.1" stroke="#27426f" stroke-width="0.8"/>
<line x1="262" y1="333.7" x2="262" y2="336.9" stroke="#27426f" stroke-width="0.8"/>
<line x1="266" y1="333.7" x2="266" y2="336.9" stroke="#27426f" stroke-width="0.8"/>
<line x1="271" y1="333.7" x2="271" y2="336.9" stroke="#27426f" stroke-width="0.8"/>
<line x1="276" y1="331.3" x2="276" y2="334.5" stroke="#27426f" stroke-width="0.8"/>
<line x1="283" y1="331.3" x2="283" y2="334.5" stroke="#27426f" stroke-width="0.8"/>
<line x1="303" y1="327.7" x2="303" y2="330.9" stroke="#27426f" stroke-width="0.8"/>
<line x1="306" y1="327.7" x2="306" y2="330.9" stroke="#27426f" stroke-width="0.8"/>
<line x1="339.6" y1="323.9" x2="339.6" y2="320.6" stroke="#27426f" stroke-width="0.8"/>
<polygon points="380.3,356.6 395.2,350.9 399.1,349.4 409.7,349.4 410.6,347 419.3,343.7 426,342.7 444.7,342.7 444.7,338 508.5,338 508.5,353.5 444.7,353.5 444.7,354.2 426,353.8 419.3,354.2 409.7,356.6 395.2,356.6 380.3,359.5" fill="#c5c9e0"/>
<polyline points="380.3,358.6 385.6,356.6 390.4,355.7 395.2,354.7 399.1,352.8 407.7,353.1 410.6,351.3 415.4,350.4 419.3,348.9 444.7,348.9 444.7,345.7 508.5,345.7" fill="none" stroke="#27426f" stroke-width="1.0" stroke-linejoin="miter"/>
<line x1="386" y1="354.93" x2="386" y2="358.13" stroke="#27426f" stroke-width="0.8"/>
<line x1="392" y1="353.77" x2="392" y2="356.97" stroke="#27426f" stroke-width="0.8"/>
<line x1="397" y1="352.22" x2="397" y2="355.42" stroke="#27426f" stroke-width="0.8"/>
<line x1="404" y1="351.37" x2="404" y2="354.57" stroke="#27426f" stroke-width="0.8"/>
<line x1="412" y1="349.44" x2="412" y2="352.64" stroke="#27426f" stroke-width="0.8"/>
<line x1="421" y1="347.3" x2="421" y2="350.5" stroke="#27426f" stroke-width="0.8"/>
<line x1="425" y1="347.3" x2="425" y2="350.5" stroke="#27426f" stroke-width="0.8"/>
<line x1="430" y1="347.3" x2="430" y2="350.5" stroke="#27426f" stroke-width="0.8"/>
<line x1="434" y1="347.3" x2="434" y2="350.5" stroke="#27426f" stroke-width="0.8"/>
<line x1="437" y1="347.3" x2="437" y2="350.5" stroke="#27426f" stroke-width="0.8"/>
<line x1="440" y1="347.3" x2="440" y2="350.5" stroke="#27426f" stroke-width="0.8"/>
<line x1="447.7" y1="344.1" x2="447.7" y2="347.3" stroke="#27426f" stroke-width="0.8"/>
<line x1="449.3" y1="344.1" x2="449.3" y2="347.3" stroke="#27426f" stroke-width="0.8"/>
<line x1="452" y1="344.1" x2="452" y2="347.3" stroke="#27426f" stroke-width="0.8"/>
<line x1="454.2" y1="344.1" x2="454.2" y2="347.3" stroke="#27426f" stroke-width="0.8"/>
<line x1="456.2" y1="344.1" x2="456.2" y2="347.3" stroke="#27426f" stroke-width="0.8"/>
<line x1="458.9" y1="344.1" x2="458.9" y2="347.3" stroke="#27426f" stroke-width="0.8"/>
<line x1="462.7" y1="344.1" x2="462.7" y2="347.3" stroke="#27426f" stroke-width="0.8"/>
<line x1="465.1" y1="344.1" x2="465.1" y2="347.3" stroke="#27426f" stroke-width="0.8"/>
<line x1="468.4" y1="344.1" x2="468.4" y2="347.3" stroke="#27426f" stroke-width="0.8"/>
<line x1="482.3" y1="344.1" x2="482.3" y2="347.3" stroke="#27426f" stroke-width="0.8"/>
<line x1="489.7" y1="344.1" x2="489.7" y2="347.3" stroke="#27426f" stroke-width="0.8"/>
<line x1="492.9" y1="344.1" x2="492.9" y2="347.3" stroke="#27426f" stroke-width="0.8"/>
<line x1="498.6" y1="344.1" x2="498.6" y2="347.3" stroke="#27426f" stroke-width="0.8"/>
<line x1="500.6" y1="344.1" x2="500.6" y2="347.3" stroke="#27426f" stroke-width="0.8"/>
<line x1="503.6" y1="344.1" x2="503.6" y2="347.3" stroke="#27426f" stroke-width="0.8"/>
<line x1="507.6" y1="344.1" x2="507.6" y2="347.3" stroke="#27426f" stroke-width="0.8"/>
</svg>
<div class="v" style="left:9.62px;top:161.1px;font-size:8.6px;color:#231f20;transform:rotate(-90deg) scaleX(0.7622);">Thrombosis events per 1000 patient-years</div>
<div class="v" style="left:9.62px;top:365.9px;font-size:8.6px;color:#231f20;transform:rotate(-90deg) scaleX(0.7609);">Thrombosis events per 1000 patient-years</div>
<div class="v" style="left:213.52px;top:161.2px;font-size:8.6px;color:#231f20;transform:rotate(-90deg) scaleX(0.7653);">Thrombosis events per 1000 patient-years</div>
<div class="v" style="left:362.62px;top:161.1px;font-size:8.6px;color:#231f20;transform:rotate(-90deg) scaleX(0.7659);">Thrombosis events per 1000 patient-years</div>
<div class="v" style="left:170.49px;top:342.1px;font-size:8.4px;color:#231f20;transform:rotate(-90deg) scaleX(0.8756);">CI of thrombosis</div>
<div style="position:absolute;left:0;top:0;width:518px;height:411px;border:1px solid #4a4a4a;"></div>
<div style="position:absolute;left:0;top:411px;width:520px;height:1px;background:rgba(60,60,60,0.25);"></div>
</body></html>
